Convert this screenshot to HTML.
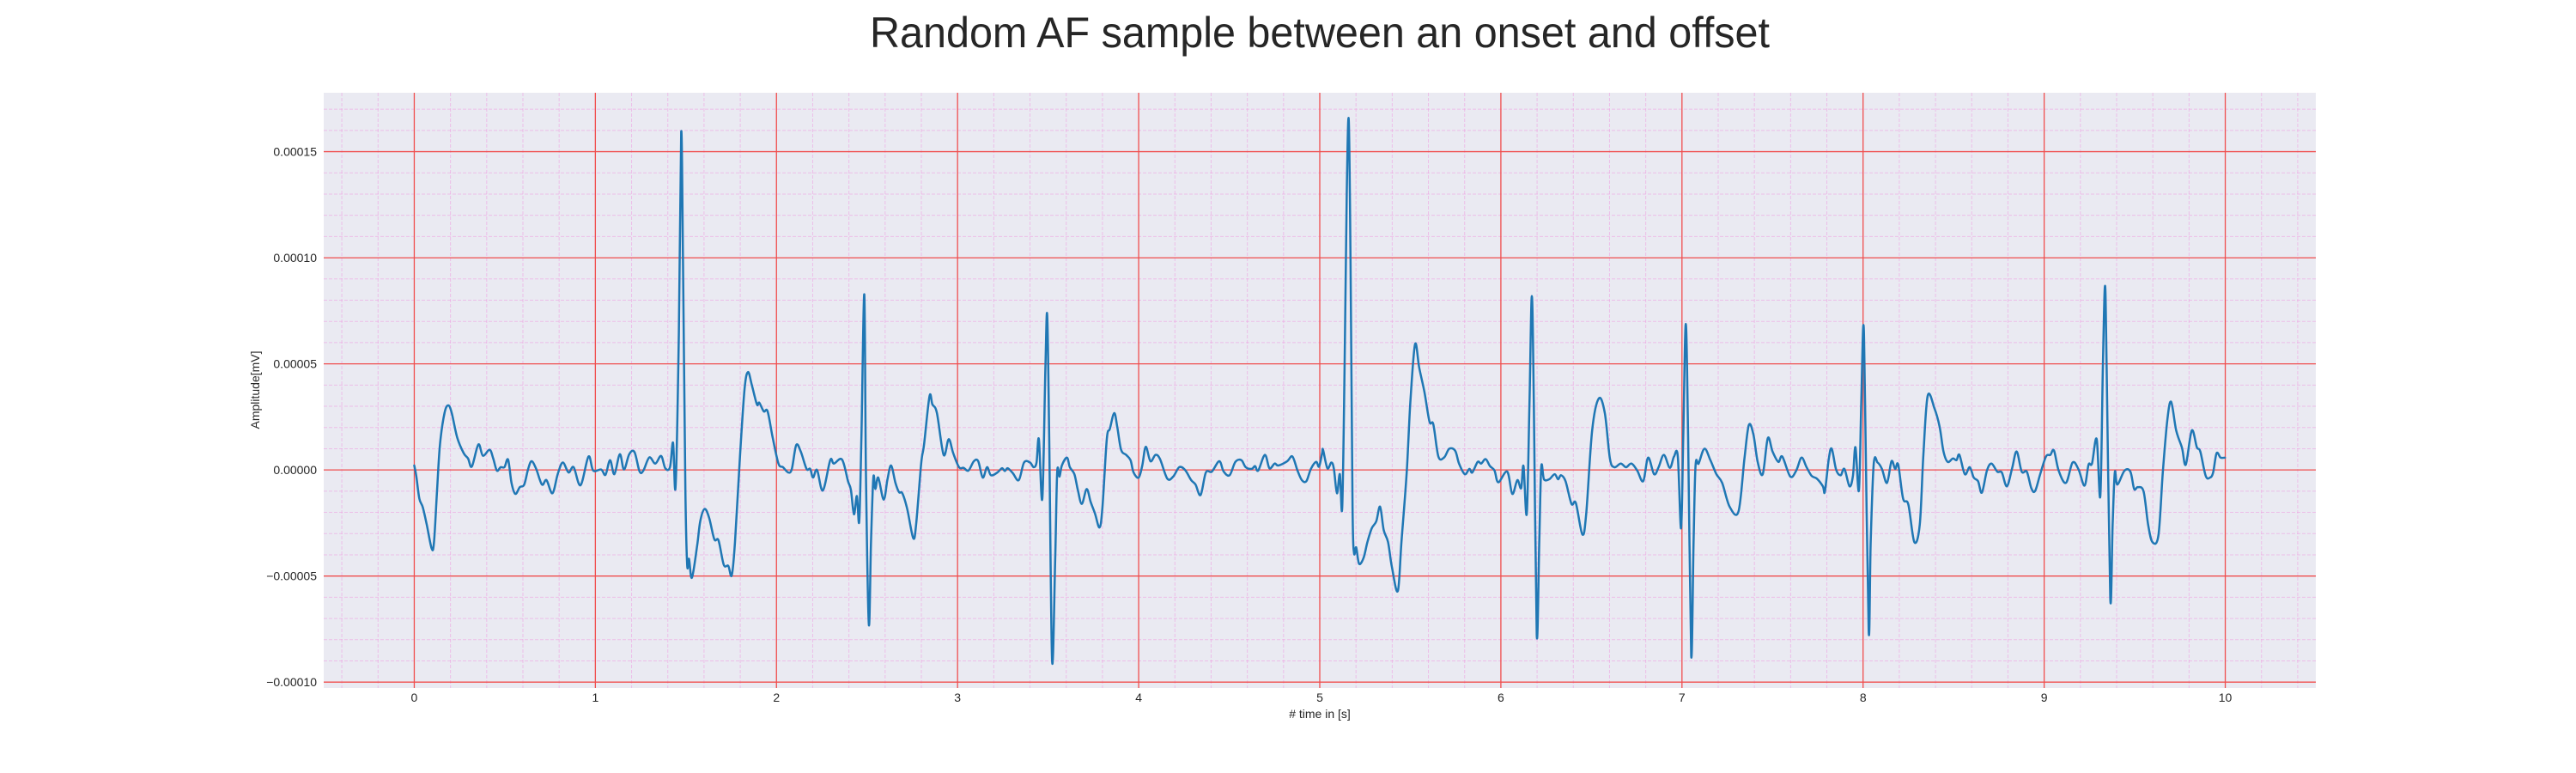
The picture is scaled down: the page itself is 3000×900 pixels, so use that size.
<!DOCTYPE html>
<html>
<head>
<meta charset="utf-8">
<style>
  html,body{margin:0;padding:0;background:#fff;}
  svg{display:block;font-family:"Liberation Sans",Arial,sans-serif;}
</style>
</head>
<body>
<svg id="chart" width="3000" height="900" viewBox="0 0 3000 900" xmlns="http://www.w3.org/2000/svg">
  <rect x="0" y="0" width="3000" height="900" fill="#ffffff"/>
  <text x="1537" y="55" font-size="50" fill="#262626" text-anchor="middle" textLength="1048" lengthAdjust="spacingAndGlyphs">Random AF sample between an onset and offset</text>
  <rect id="plotbg" x="377" y="108" width="2320" height="693" fill="#eaeaf2"/>
  <g id="minor-grid"></g>
  <g id="major-grid"></g>
  <g id="series"></g>
  <g id="yticks"></g>
  <g id="xticks"></g>
  <text x="1537" y="836" font-size="14" fill="#262626" text-anchor="middle"># time in [s]</text>
  <text x="0" y="0" font-size="14" fill="#262626" text-anchor="middle" transform="translate(302,454) rotate(-90)">Amplitude[mV]</text>
</svg>
<script>
// time in seconds
const times = [
0.000,0.011,0.028,0.047,0.069,0.096,0.109,0.126,0.142,0.167,0.188,0.207,0.237,0.273,0.297,0.318,0.354,0.379,0.416,0.436,0.456,0.477,0.498,0.518,0.537,0.558,0.583,0.607,0.629,0.648,0.673,0.705,0.730,0.763,0.792,0.820,0.852,0.880,0.918,0.962,0.988,1.032,1.056,1.081,1.105,1.135,1.158,1.187,1.216,1.244,1.265,1.298,1.331,1.363,1.386,1.412,1.429,1.443,1.461,1.474,1.484,1.497,1.507,1.517,1.533,1.562,1.579,1.603,1.628,1.657,1.680,1.709,1.734,1.753,1.771,1.799,1.824,1.843,1.864,1.892,1.905,1.930,1.951,1.979,2.011,2.036,2.065,2.085,2.109,2.134,2.166,2.186,2.202,2.224,2.256,2.297,2.317,2.362,2.395,2.411,2.428,2.444,2.457,2.469,2.485,
2.494,2.510,2.522,2.535,2.546,2.562,2.592,2.613,2.633,2.657,2.677,2.695,2.722,2.755,2.771,2.799,2.815,2.845,2.861,2.886,2.923,2.951,2.976,3.008,3.033,3.060,3.090,3.114,3.139,3.163,3.184,3.220,3.245,3.261,3.277,3.305,3.338,3.367,3.400,3.420,3.436,3.449,3.468,3.485,3.495,3.506,3.522,3.539,3.550,3.563,3.576,3.604,3.620,3.645,3.664,3.686,3.713,3.735,3.759,3.784,3.800,3.824,3.841,3.865,3.882,3.903,3.931,3.955,3.972,4.000,4.020,4.039,4.065,4.093,4.118,4.158,4.191,4.224,4.256,4.290,4.314,4.342,4.371,4.404,4.445,4.469,4.502,4.534,4.567,4.591,4.624,4.643,4.660,4.697,4.722,4.751,4.771,4.820,4.849,4.877,4.901,4.926,4.951,4.980,4.996,5.013,
5.018,5.042,5.064,5.078,5.095,5.111,5.124,5.137,5.149,5.160,5.170,5.181,5.189,5.201,5.217,5.242,5.263,5.287,5.312,5.333,5.353,5.377,5.398,5.431,5.451,5.480,5.500,5.526,5.549,5.578,5.606,5.627,5.655,5.687,5.715,5.748,5.769,5.801,5.826,5.842,5.872,5.891,5.916,5.940,5.965,5.986,6.035,6.063,6.091,6.112,6.125,6.143,6.158,6.171,6.182,6.198,6.212,6.223,6.238,6.267,6.297,6.316,6.332,6.357,6.390,6.414,6.450,6.471,6.504,6.541,6.574,6.602,6.626,6.662,6.691,6.721,6.753,6.786,6.813,6.846,6.871,6.900,6.933,6.956,6.977,6.995,7.007,7.021,7.034,7.051,7.064,7.075,7.092,7.124,7.157,7.190,7.222,7.263,7.312,7.345,7.369,7.394,7.418,7.446,7.474,
7.500,7.532,7.554,7.598,7.631,7.660,7.688,7.716,7.745,7.778,7.789,7.811,7.827,7.851,7.876,7.897,7.925,7.944,7.958,7.977,7.990,8.002,8.011,8.031,8.042,8.059,8.080,8.104,8.132,8.157,8.177,8.194,8.221,8.250,8.283,8.313,8.333,8.357,8.395,8.423,8.444,8.467,8.496,8.516,8.532,8.562,8.589,8.611,8.635,8.656,8.684,8.709,8.741,8.766,8.794,8.823,8.848,8.876,8.904,8.929,8.950,8.978,9.010,9.034,9.054,9.080,9.120,9.157,9.190,9.223,9.245,9.264,9.290,9.310,9.324,9.336,9.345,9.365,9.378,9.390,9.404,9.444,9.476,9.497,9.517,9.549,9.574,9.598,9.631,9.655,9.680,9.701,9.729,9.761,9.782,9.815,9.843,9.862,9.892,9.916,9.933,9.952,9.974,9.998
];
// amplitude in units of 1e-5 mV
const amplitudes = [
0.21,-0.28,-1.35,-1.76,-2.58,-3.7,-3.4,-0.94,1.2,2.68,3.04,2.68,1.53,0.79,0.54,0.16,1.2,0.67,0.95,0.54,-0.03,0.13,0.13,0.49,-0.61,-1.13,-0.81,-0.69,0.05,0.41,0.05,-0.69,-0.48,-1.1,-0.2,0.35,-0.12,0.13,-0.72,0.63,-0.03,0.02,-0.23,0.46,-0.2,0.74,0.02,0.74,0.84,-0.07,-0.03,0.59,0.3,0.66,0.08,0.13,1.28,-0.77,6.46,15.92,9.75,-0.94,-4.47,-4.19,-5.08,-3.57,-2.42,-1.84,-2.25,-3.27,-3.32,-4.47,-4.52,-4.97,-3.4,0.71,3.83,4.61,4.0,3.09,3.17,2.76,2.76,1.53,0.3,0.13,-0.12,0.05,1.17,0.87,0.05,0.05,-0.36,0,-0.97,0.46,0.3,0.49,-0.53,-0.94,-2.09,-1.23,-2.42,1.53,8.27,
-0.12,-7.27,-3.4,-0.36,-0.9,-0.36,-1.4,-0.44,0.21,-0.61,-1.05,-1.1,-1.84,-3.21,-2.58,0.3,1.2,3.47,3.09,2.68,0.71,1.45,0.79,0.13,0.1,-0.03,0.41,0.41,-0.36,0.13,-0.25,-0.12,0.08,-0.05,0.08,-0.15,-0.48,0.35,0.35,0.13,0.35,1.45,-1.35,4.82,7.29,1.53,-9.0,-4.23,-0.12,-0.31,0.21,0.58,0.13,-0.2,-0.94,-1.6,-0.9,-1.51,-2.06,-2.71,-1.76,1.45,1.94,2.68,2.02,0.95,0.71,0.46,-0.12,-0.36,0.21,1.09,0.41,0.71,0.51,-0.41,-0.31,0.13,0,-0.48,-0.69,-1.18,-0.12,-0.08,0.41,-0.07,-0.25,0.38,0.46,0.13,0.05,0.18,-0.03,0.71,0.08,0.3,0.21,0.41,0.63,-0.03,-0.48,-0.53,0.05,0.38,0.16,0.79,
0.95,0.08,0.35,0.05,-1.1,-0.2,-1.76,4.82,13.04,16.5,9.75,-1.76,-3.9,-3.65,-4.42,-4.14,-3.4,-2.75,-2.42,-1.73,-2.83,-3.4,-4.56,-5.71,-3.4,-0.12,3.17,5.92,4.82,3.67,2.27,2.15,0.63,0.59,1.0,0.9,0.3,-0.2,0.05,-0.12,0.38,0.3,0.51,0.18,-0.03,-0.58,-0.08,-1.13,-0.48,-0.86,0.18,-2.06,3.17,8.19,3.17,-7.76,-3.4,0.13,-0.44,-0.44,-0.2,-0.44,-0.25,-0.53,-1.6,-1.56,-3.04,-2.09,1.86,3.37,2.68,0.54,0.13,0.3,0.13,0.3,-0.03,-0.53,0.58,-0.2,0.13,0.71,0.1,0.63,0.63,-2.75,1.53,6.88,1.53,-8.75,-3.4,0.21,0.3,1.0,0.46,-0.2,-0.61,-1.73,-1.96,0.54,2.11,1.69,0.38,-0.2,1.5,
0.87,0.38,0.63,-0.31,-0.03,0.58,0.13,-0.28,-0.41,-0.77,-1.02,0.54,1.0,0.02,-0.25,0.05,-0.77,-0.28,1.07,-0.97,3.17,6.83,3.17,-7.6,-3.4,0.3,0.35,0.05,-0.61,0.41,0.05,0.25,-1.35,-1.63,-3.4,-2.58,0.71,3.5,2.88,2.02,0.87,0.38,0.54,0.46,0.71,-0.2,0.13,-0.36,-0.53,-1.07,-0.03,0.3,-0.08,-0.12,-0.77,0.08,0.87,-0.08,-0.08,-0.86,-0.99,-0.2,0.63,0.71,0.92,-0.03,-0.61,0.35,0.02,-0.74,0.25,0.3,1.45,-1.23,4.82,8.68,4.82,-6.04,-2.58,-0.12,-0.69,-0.03,-0.08,-0.9,-0.81,-1.02,-2.58,-3.4,-3.08,-0.12,2.35,3.21,1.86,1.04,0.25,1.86,1.07,0.87,-0.28,-0.36,-0.12,0.79,0.58,0.58
];
const xTickValues = [0,1,2,3,4,5,6,7,8,9,10];
const xTickLabels = ["0","1","2","3","4","5","6","7","8","9","10"];
const yTickValues = [-0.0001,-0.00005,0,0.00005,0.0001,0.00015];
const yTickLabels = ["\u22120.00010","\u22120.00005","0.00000","0.00005","0.00010","0.00015"];

const NS = "http://www.w3.org/2000/svg";
const PL = 377, PR = 2697, PT = 108, PB = 801;
const values = amplitudes.map(a => a * 1e-5);
const tMin = Math.min(...times), tMax = Math.max(...times);
const vMin = Math.min(...values), vMax = Math.max(...values);
const xPad = (10 - 0) * 0.05;
const x0 = Math.min(tMin, 0) - xPad, x1 = Math.max(tMax, 10) + xPad;
const yPad = (vMax - vMin) * 0.05;
const y0 = vMin - yPad, y1 = vMax + yPad;
function xScale(t){ return PL + (t - x0) / (x1 - x0) * (PR - PL); }
function yScale(v){ return PB - (v - y0) / (y1 - y0) * (PB - PT); }

function mk(tag, attrs, parent){
  const el = document.createElementNS(NS, tag);
  for (const k in attrs) el.setAttribute(k, attrs[k]);
  parent.appendChild(el);
  return el;
}
const minorG = document.getElementById("minor-grid");
const majorG = document.getElementById("major-grid");
for (let i = Math.ceil(x0 / 0.2); i * 0.2 <= x1; i++) {
  if (i % 5 === 0) continue;
  const x = xScale(i * 0.2);
  const l = mk("line", {x1:x, x2:x, y1:PT, y2:PB, stroke:"#ee9be0", "stroke-width":1, "stroke-dasharray":"4,2", opacity:0.55}, minorG);
  
  
}
for (let i = Math.ceil(y0 / 1e-5); i * 1e-5 <= y1; i++) {
  if (i % 5 === 0) continue;
  const y = yScale(i * 1e-5);
  const l = mk("line", {x1:PL, x2:PR, y1:y, y2:y, stroke:"#ee9be0", "stroke-width":1, "stroke-dasharray":"4,2", opacity:0.55}, minorG);
  
  
}
const xtG = document.getElementById("xticks");
xTickValues.forEach((v, i) => {
  const x = xScale(v);
  const l = mk("line", {x1:x, x2:x, y1:PT, y2:PB, stroke:"#f04e4e", "stroke-width":1.3}, majorG);
  
  
  const t = mk("text", {x:x, y:817, "font-size":14, fill:"#262626", "text-anchor":"middle"}, xtG);
  t.textContent = xTickLabels[i];
  
  
});
const ytG = document.getElementById("yticks");
yTickValues.forEach((v, i) => {
  const y = yScale(v);
  const l = mk("line", {x1:PL, x2:PR, y1:y, y2:y, stroke:"#f04e4e", "stroke-width":1.3}, majorG);
  
  
  const t = mk("text", {x:369, y:y + 5, "font-size":14, fill:"#262626", "text-anchor":"end"}, ytG);
  t.textContent = yTickLabels[i];
  
  
});
// smooth Catmull-Rom curve through data points
const pts = times.map((t, i) => [xScale(t), yScale(values[i])]);
let d = "M" + pts[0][0].toFixed(2) + "," + pts[0][1].toFixed(2);
for (let i = 0; i < pts.length - 1; i++) {
  const p0 = pts[Math.max(0, i - 1)], p1 = pts[i], p2 = pts[i + 1], p3 = pts[Math.min(pts.length - 1, i + 2)];
  const c1x = p1[0] + (p2[0] - p0[0]) / 6, c1y = p1[1] + (p2[1] - p0[1]) / 6;
  const c2x = p2[0] - (p3[0] - p1[0]) / 6, c2y = p2[1] - (p3[1] - p1[1]) / 6;
  d += "C" + c1x.toFixed(2) + "," + c1y.toFixed(2) + " " + c2x.toFixed(2) + "," + c2y.toFixed(2) + " " + p2[0].toFixed(2) + "," + p2[1].toFixed(2);
}
const path = mk("path", {d:d, fill:"none", stroke:"#1f77b4", "stroke-width":2.5, "stroke-linejoin":"round", "stroke-linecap":"round"}, document.getElementById("series"));


</script>
</body>
</html>
